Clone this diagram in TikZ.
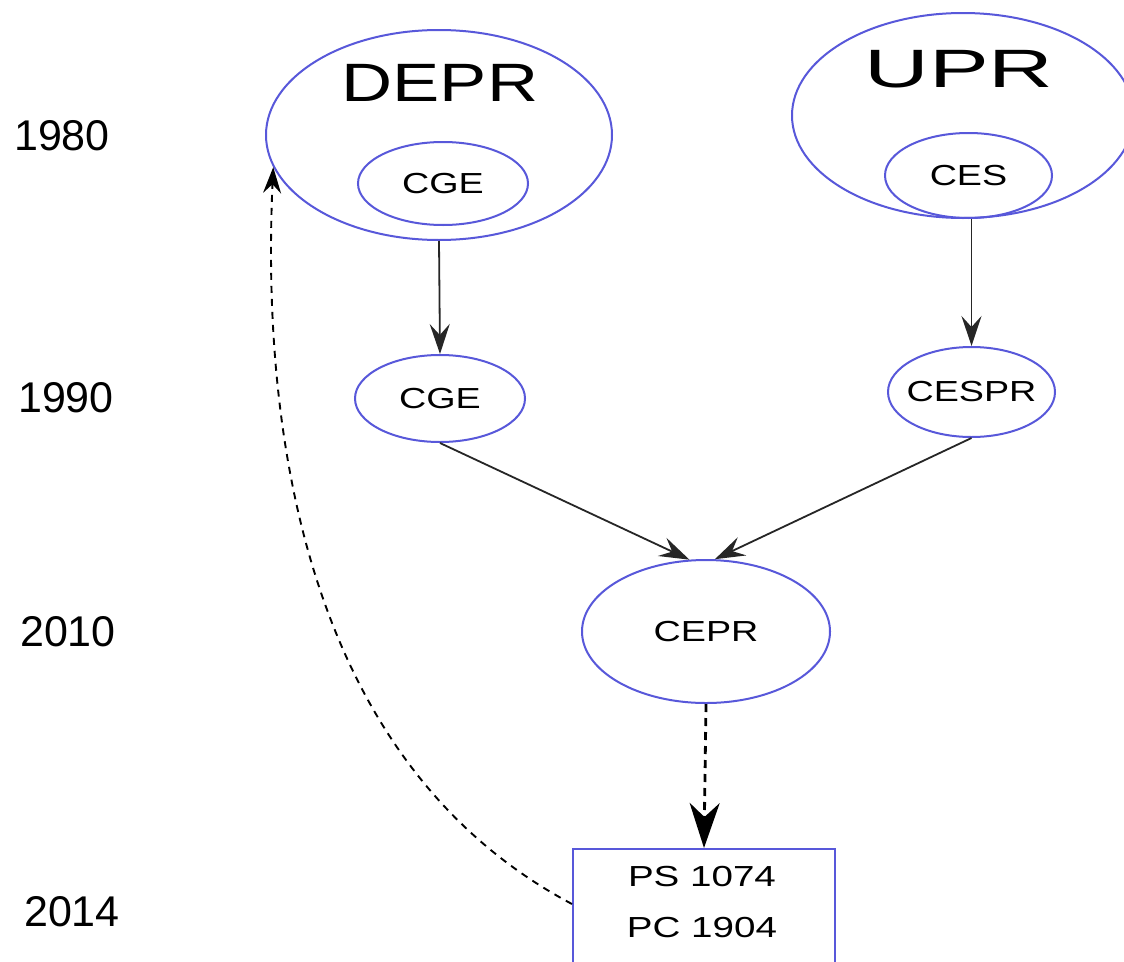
\documentclass[tikz,border=0pt]{standalone}
\usepackage{fontspec}
\setmainfont{Liberation Sans}
\usetikzlibrary{shapes.geometric,arrows.meta}
\definecolor{ellblue}{RGB}{88,88,218}
\newcommand{\wtext}[2][1.3]{\makebox[0pt]{\scalebox{#1}[1]{#2}}}
\tikzset{
  ell/.style={ellipse, draw=ellblue, line width=2pt, inner sep=0pt},
  yearlbl/.style={font=\fontsize{43}{50}\selectfont, inner sep=0pt},
  biglbl/.style={font=\fontsize{54}{60}\selectfont, inner sep=0pt},
  smalltxt/.style={font=\fontsize{29}{34}\selectfont},
  boxnode/.style={rectangle, draw=ellblue, line width=2pt, minimum width=262pt, minimum height=140pt, inner sep=0pt},
  solidarrow/.style={line width=1.8pt, draw=black!85, -{Stealth[length=30pt, width=20pt, inset=11pt]}},
  bigdash/.style={line width=2.8pt, dash pattern=on 8pt off 6pt, -{Stealth[length=45pt, width=30pt, inset=14pt]}},
  curvedash/.style={line width=1.9pt, dash pattern=on 7pt off 6pt, -{Stealth[length=26pt, width=18pt, inset=9pt]}}
}
\begin{document}
\begin{tikzpicture}[x=1pt, y=-1pt]
\useasboundingbox[fill=white] (0,0) rectangle (1124,961);

% year labels
\node[yearlbl] (y1980) at (62,136) {1980};
\node[yearlbl] (y1990) at (66,398) {1990};
\node[yearlbl] (y2010) at (68,632) {2010};
\node[yearlbl] (y2014) at (72,912) {2014};

% DEPR group
\node[ell, minimum width=346pt, minimum height=210pt] (depr) at (439,135) {};
\node[biglbl] (deprlabel) at (440,83) {\wtext[1.31]{DEPR}};
\node[ell, smalltxt, minimum width=170pt, minimum height=83pt] (cgeA) at (443,183.5) {\wtext{CGE}};

% UPR group
\node[ell, minimum width=342pt, minimum height=205pt] (upr) at (963,115.5) {};
\node[biglbl] (uprlabel) at (959,69) {\wtext[1.66]{UPR}};
\node[ell, smalltxt, minimum width=167pt, minimum height=85pt] (ces) at (968.5,175.5) {\wtext{CES}};

% 1990
\node[ell, smalltxt, minimum width=170pt, minimum height=87pt] (cgeB) at (440,398.5) {\wtext{CGE}};
\node[ell, smalltxt, minimum width=167pt, minimum height=90pt] (cespr) at (971.5,392) {\wtext{CESPR}};

% 2010
\node[ell, smalltxt, minimum width=248pt, minimum height=143pt] (cepr) at (706,631.5) {\wtext{CEPR}};

% 2014 box
\node[boxnode, anchor=north] (box) at (704,848) {};
\node[font=\fontsize{29}{51}\selectfont, align=center, inner sep=0pt] (boxtext) at (702,902.5) {\wtext[1.33]{PS 1074}\\\wtext[1.33]{PC 1904}};

% connectors
\draw[solidarrow] (depr.south) -- (cgeB.north);
\draw[solidarrow] (cespr.north |- upr.south) -- (cespr.north);
\draw[solidarrow] (cgeB.south) -- (cepr.103);
\draw[solidarrow] (cespr.south) -- (cepr.83);
\draw[bigdash] (cepr.south) -- (box.north);
\draw[curvedash] ([yshift=15pt]box.west) .. controls (300,760) and (262,420) .. (depr.191);
\end{tikzpicture}
\end{document}
